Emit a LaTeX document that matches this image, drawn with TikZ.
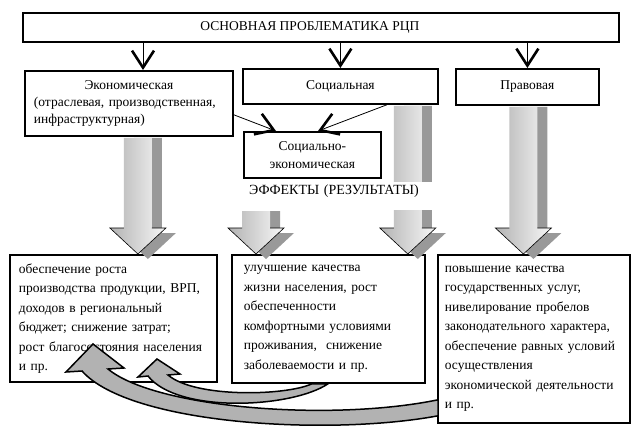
\documentclass[tikz,border=0pt]{standalone}
\usepackage{fontspec}
\setmainfont{Liberation Serif}
\usetikzlibrary{arrows.meta}
\usetikzlibrary{calc}
\tikzset{probbox/.style = {draw, line width=1.8pt, fill=white, inner sep=0pt,
                           align=center, anchor=north west,
                           font=\fontsize{13.5}{17}\selectfont},
         effbox/.style = {draw, line width=1.8pt, fill=white, inner ysep=0pt,
                          align=left, anchor=north west,
                          font=\fontsize{13.5}{19.5}\selectfont},
         varrow/.style = {line width=0.8pt,
                          -{Straight Barb[length=17pt, width=22pt, line width=2.6pt]}},
         fatshadow/.style = {fill=black!40},
         fatbody/.style = {left color=black!30, right color=black!3},
         backarrow/.style = {draw, line width=1.5pt, fill=black!30, line join=miter}}
\newcommand\fatarrow[2]{%
  \fill[fatshadow] let \p1 = (#1), \p2 = (#2) in
    (\x2-4pt,\y1-1pt) -- (\x2+24pt,\y1-1pt) -- (\x2+24pt,\y2+21pt)
    -- (\x2+38pt,\y2+21pt) -- (\x2+10pt,\y2-5pt) -- (\x2-18pt,\y2+21pt)
    -- (\x2-4pt,\y2+21pt) -- cycle;
  \shade[fatbody] let \p1 = (#1), \p2 = (#2) in
    (\x2-14pt,\y1-1pt) -- (\x2+14pt,\y1-1pt) -- (\x2+14pt,\y2+26pt)
    -- (\x2+28pt,\y2+26pt) -- (\x2,\y2) -- (\x2-28pt,\y2+26pt)
    -- (\x2-14pt,\y2+26pt) -- cycle;
  \draw[line width=0.6pt] let \p2 = (#2) in
    (\x2-14pt,\y2+26pt) -- (\x2-28pt,\y2+26pt) -- (\x2,\y2)
    -- (\x2+28pt,\y2+26pt) -- (\x2+14pt,\y2+26pt);}

\begin{document}
\begin{tikzpicture}[x=1pt, y=-1pt]
  \useasboundingbox (0,0) rectangle (631,428);

  \node [probbox, minimum width=596pt, minimum height=29pt] (top) at (22,12)
        {ОСНОВНАЯ ПРОБЛЕМАТИКА РЦП\hspace*{22pt}};
  \node [probbox, minimum width=208pt, minimum height=65pt, text width=190pt,
         align=left] (eco) at (24,70)
        {\hfill Экономическая\hfill\null\\(отраслевая, производственная,\\инфраструктурная)};
  \node [probbox, minimum width=195pt, minimum height=35pt] (social) at (242,68) {Социальная};
  \node [probbox, minimum width=143pt, minimum height=36pt] (law) at (455,68) {Правовая};
  \node [probbox, minimum width=137pt, minimum height=46pt,
         font=\fontsize{13.5}{18}\selectfont] (socec) at (243,131)
        {Социально-\\экономическая};

  \node [effbox, minimum width=207pt, minimum height=127pt, text width=189pt,
         inner xsep=9pt] (resA) at (9,254)
        {обеспечение роста\\производства продукции, ВРП,\\доходов в региональный\\бюджет; снижение затрат;\\рост благосостояния населения\\и пр.};
  \node [effbox, minimum width=193pt, minimum height=128pt, text width=169pt,
         inner xsep=12pt] (resB) at (231,254)
        {улучшение качества\\жизни населения, рост\\обеспеченности\\комфортными условиями\\проживания,\ \ снижение\\заболеваемости и пр.};
  \node [effbox, minimum width=192pt, minimum height=168pt, text width=178pt,
         inner xsep=7pt] (resC) at (437,254)
        {повышение качества\\государственных услуг,\\нивелирование пробелов\\законодательного характера,\\обеспечение равных условий\\осуществления\\экономической деятельности\\и пр.};

  \coordinate (ecoin) at ([xshift=119pt]eco.north west);
  \draw [varrow] (top.south -| ecoin) -- (ecoin);
  \draw [varrow] (top.south -| social.north) -- (social.north);
  \draw [varrow] (top.south -| law.north) -- (law.north);
  \draw [varrow] ([yshift=22pt]eco.south east) -- ([xshift=33pt]socec.north west);
  \draw [varrow] ([xshift=-52pt]social.south east) -- ([xshift=75pt]socec.north west);

  \coordinate (ecoout) at ([xshift=9pt]eco.south);
  \coordinate (ecotip) at (ecoout |- resA.north);
  \coordinate (socout) at ([xshift=-31pt]social.south east);
  \coordinate (soctip) at (socout |- resB.north);
  \coordinate (lawout) at ([xshift=-4pt]law.south);
  \coordinate (lawtip) at (lawout |- resC.north);
  \fatarrow{ecoout}{ecotip}
  \fatarrow{socout}{soctip}
  \fatarrow{lawout}{lawtip}

  \node [fill=white, inner xsep=0pt, inner ysep=2pt, text width=193pt, text depth=14pt,
         align=left, anchor=base west, font=\fontsize{14}{17}\selectfont] (effects)
        at (243,194) {\hspace*{6pt}ЭФФЕКТЫ (РЕЗУЛЬТАТЫ)};
  \coordinate (midtip) at ([xshift=25pt]resB.north west);
  \fatarrow{effects.south}{midtip}

  \filldraw [backarrow] (93,344) -- (124,368) -- (108,369)
    .. controls (155,408) and (330,422) .. ([shift={(1pt,24pt)}]resC.south west)
    -- ([shift={(1pt,8pt)}]resC.south west)
    .. controls (330,436) and (130,425) .. (82,371) -- (66,372) -- cycle;
  \filldraw [backarrow] (157,359) -- (180,374) -- (168,375)
    .. controls (195,398) and (285,396) .. ([xshift=81pt]resB.south west)
    -- ([xshift=97pt]resB.south west)
    .. controls (292,408) and (178,414) .. (148,376) -- (138,377) -- cycle;
\end{tikzpicture}
\end{document}
